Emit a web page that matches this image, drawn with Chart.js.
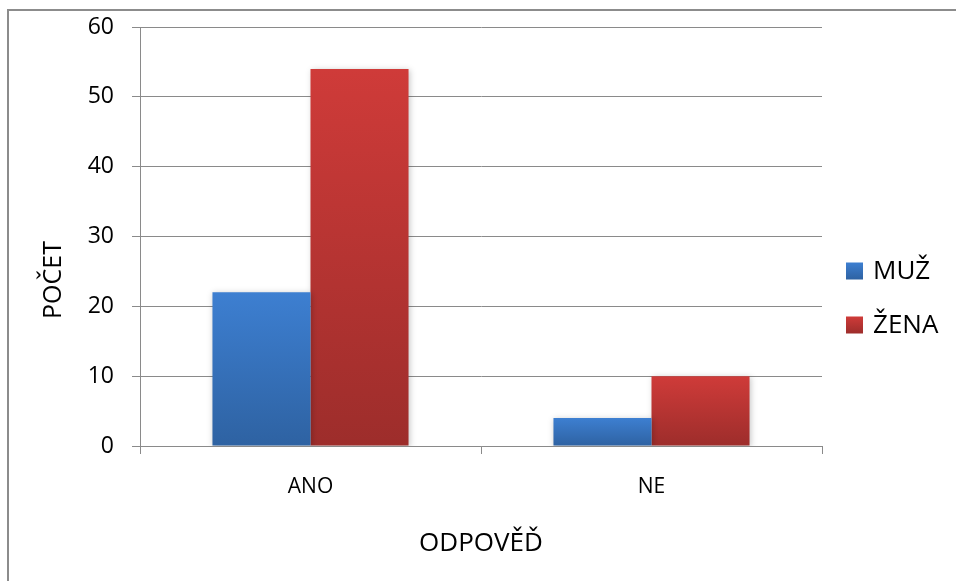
<!DOCTYPE html>
<html lang="cs">
<head>
<meta charset="utf-8">
<title>Počet odpovědí podle pohlaví</title>
<script src="https://cdn.jsdelivr.net/npm/chart.js@4.4.1/dist/chart.umd.min.js"></script>
<style>
  html, body { margin: 0; padding: 0; background: #fff; }
  #wrap { position: relative; width: 956px; height: 581px; }
</style>
</head>
<body>
<div id="wrap"><canvas id="chart" width="956" height="581"></canvas></div>
<script>
// Answers grouped by respondent gender
const categories = ['ANO', 'NE'];
const seriesNames = ['MUŽ', 'ŽENA'];
const muzValues = [22, 4];
const zenaValues = [54, 10];
const yTicks = [0, 10, 20, 30, 40, 50, 60];
const yTitle = 'POČET';
const xTitle = 'ODPOVĚĎ';

const FONT = "'Open Sans', 'Liberation Sans', sans-serif";
const AXIS_GREY = '#8a8a8a';
const BLUE = ['#3d7fd1', '#2e62a2'];
const RED = ['#cf3b39', '#9d2d2b'];

// Vertical gradient spanning each bar from its top to the zero line
function barFill(colors) {
  return (ctx) => {
    const chart = ctx.chart;
    const y = chart.scales && chart.scales.y;
    if (!chart.chartArea || !y || ctx.type !== 'data') return colors[0];
    const yTop = y.getPixelForValue(ctx.raw);
    const yBase = y.getPixelForValue(0);
    if (!isFinite(yTop) || !isFinite(yBase) || yTop === yBase) return colors[0];
    const g = chart.ctx.createLinearGradient(0, yTop, 0, yBase);
    g.addColorStop(0, colors[0]);
    g.addColorStop(1, colors[1]);
    return g;
  };
}

// Outer frame of the chart
const framePlugin = {
  id: 'frame',
  beforeDraw(chart) {
    const c = chart.ctx;
    c.save();
    c.strokeStyle = '#8c8c8c';
    c.lineWidth = 2;
    c.strokeRect(8, 10, 1400, 1400);
    c.restore();
  }
};

// Soft shadow behind the bars
const shadowPlugin = {
  id: 'barShadow',
  beforeDatasetsDraw(chart) {
    const c = chart.ctx;
    c.save();
    c.shadowColor = 'rgba(0,0,0,0.22)';
    c.shadowBlur = 6;
    c.shadowOffsetX = 1;
    c.shadowOffsetY = 1;
  },
  afterDatasetsDraw(chart) {
    chart.ctx.restore();
  }
};

// Rotated value-axis title, centred on the whole chart height
const yTitlePlugin = {
  id: 'yTitle',
  afterDraw(chart) {
    const c = chart.ctx;
    c.save();
    c.translate(54, 280);
    c.rotate(-Math.PI / 2);
    c.fillStyle = '#000';
    c.font = '25px ' + FONT;
    c.textAlign = 'center';
    c.textBaseline = 'middle';
    c.fillText(yTitle, 0, 0);
    c.restore();
  }
};

// Legend on the right side with gradient swatches
const sideLegend = {
  id: 'sideLegend',
  afterDraw(chart) {
    const c = chart.ctx;
    const boxX = 846, box = 17, textX = 873;
    const centers = [271, 325];
    const fills = [BLUE, RED];
    c.save();
    chart.data.datasets.forEach((ds, i) => {
      const cy = centers[i];
      const g = c.createLinearGradient(0, cy - box / 2, 0, cy + box / 2);
      g.addColorStop(0, fills[i][0]);
      g.addColorStop(1, fills[i][1]);
      c.fillStyle = g;
      c.fillRect(boxX, cy - box / 2, box, box);
      c.fillStyle = '#000';
      c.font = '26px ' + FONT;
      c.textBaseline = 'middle';
      c.textAlign = 'left';
      c.fillText(ds.label, textX, cy + 1);
    });
    c.restore();
  }
};

new Chart(document.getElementById('chart'), {
  type: 'bar',
  data: {
    labels: categories,
    datasets: [
      { label: seriesNames[0], data: muzValues, backgroundColor: barFill(BLUE) },
      { label: seriesNames[1], data: zenaValues, backgroundColor: barFill(RED) }
    ]
  },
  options: {
    responsive: false,
    animation: false,
    events: [],
    layout: { padding: { top: 27, right: 134, bottom: 0, left: 0 } },
    datasets: { bar: { categoryPercentage: 0.575, barPercentage: 1, borderWidth: 0 } },
    plugins: {
      legend: { display: false },
      tooltip: { enabled: false }
    },
    scales: {
      x: {
        offset: true,
        grid: {
          display: true,
          drawOnChartArea: false,
          drawTicks: true,
          tickLength: 8,
          offset: true,
          color: AXIS_GREY
        },
        border: { display: true, color: AXIS_GREY },
        ticks: { color: '#000', font: { family: FONT, size: 21 }, padding: 20 },
        title: {
          display: true,
          text: xTitle,
          color: '#000',
          font: { family: FONT, size: 26 },
          padding: { top: 0, bottom: 22 }
        },
        afterFit(scale) { scale.height = 135; }
      },
      y: {
        min: 0,
        max: 60,
        afterBuildTicks(scale) { scale.ticks = yTicks.map(v => ({ value: v })); },
        grid: { color: AXIS_GREY, tickLength: 8, drawTicks: true },
        border: { display: true, color: AXIS_GREY },
        ticks: { color: '#000', font: { family: FONT, size: 23 }, padding: 18 },
        title: { display: false },
        afterFit(scale) {
          scale.width = 140;
          scale.paddingTop = 0;
          scale.paddingBottom = 0;
        }
      }
    }
  },
  plugins: [framePlugin, shadowPlugin, yTitlePlugin, sideLegend]
});
</script>
</body>
</html>
